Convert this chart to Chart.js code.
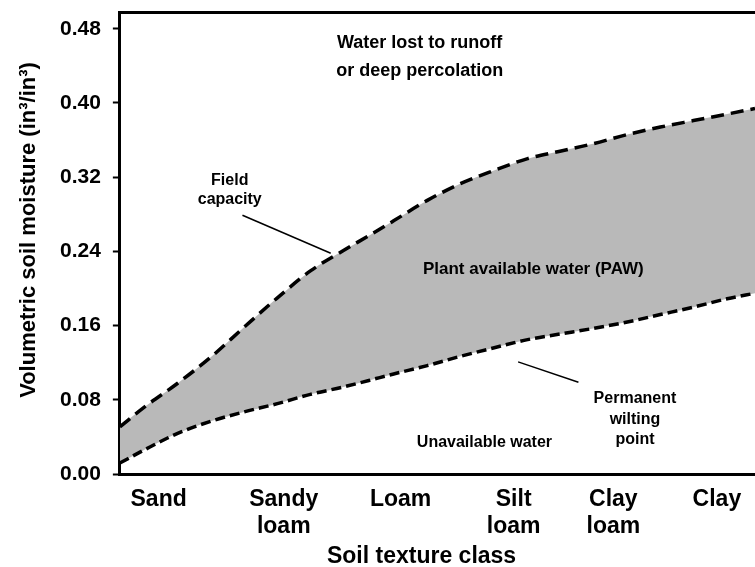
<!DOCTYPE html>
<html>
<head>
<meta charset="utf-8">
<script src="https://cdn.jsdelivr.net/npm/chart.js@4.4.1/dist/chart.umd.min.js"></script>
<style>
  body { margin: 0; background: #fff; }
  #soilChart { display: block; }
</style>
</head>
<body>
<canvas id="soilChart" width="755" height="567"></canvas>
<script>
// position along the texture axis (0 = left edge, 100 = right edge)
const xPos = [0, 3.8, 9.1, 14.3, 19.5, 24.8, 30.0, 35.2, 39.2, 43.1, 48.4, 53.6, 58.8, 64.2, 69.3, 74.5, 79.9, 85.1, 90.3, 95.6, 100];
const fieldCapacity = [0.051, 0.072, 0.098, 0.126, 0.158, 0.190, 0.219, 0.241, 0.257, 0.273, 0.295, 0.313, 0.327, 0.340, 0.348, 0.356, 0.366, 0.374, 0.381, 0.388, 0.394];
const wiltingPoint = [0.012, 0.026, 0.044, 0.057, 0.067, 0.076, 0.086, 0.094, 0.101, 0.108, 0.117, 0.127, 0.136, 0.145, 0.151, 0.157, 0.164, 0.172, 0.180, 0.189, 0.195];

const textureClasses = [["Sand"], ["Sandy", "loam"], ["Loam"], ["Silt", "loam"], ["Clay", "loam"], ["Clay"]];
const classPos = [6.1, 25.8, 44.2, 62.0, 77.7, 94.0];
const moistureTicks = [0, 0.08, 0.16, 0.24, 0.32, 0.40, 0.48];

const FONT = "'Liberation Sans', Arial, Helvetica, sans-serif";

// text labels inside the plot, placed in data units
const notes = [
  { x: 47.2, y: 0.449, lines: ["Water lost to runoff", "or deep percolation"], size: 18, lh: 28 },
  { x: 17.3, y: 0.306, lines: ["Field", "capacity"], size: 16, lh: 19 },
  { x: 65.1, y: 0.221, lines: ["Plant available water (PAW)"], size: 17, lh: 20 },
  { x: 81.1, y: 0.059, lines: ["Permanent", "wilting", "point"], size: 16, lh: 20.5 },
  { x: 57.4, y: 0.0345, lines: ["Unavailable water"], size: 16, lh: 20 },
];
const pointers = [
  [19.3, 0.279, 33.2, 0.238],
  [62.7, 0.121, 72.2, 0.099],
];

const notesPlugin = {
  id: "notes",
  afterDatasetsDraw(chart) {
    const { ctx, scales: { x, y } } = chart;
    ctx.save();
    ctx.fillStyle = "#000";
    ctx.strokeStyle = "#000";
    ctx.textAlign = "center";
    ctx.textBaseline = "middle";
    notes.forEach((n) => {
      ctx.font = `bold ${n.size}px ${FONT}`;
      const cx = x.getPixelForValue(n.x);
      const top = y.getPixelForValue(n.y) - ((n.lines.length - 1) * n.lh) / 2;
      n.lines.forEach((t, i) => ctx.fillText(t, cx, top + i * n.lh));
    });
    ctx.lineWidth = 1.5;
    pointers.forEach((p) => {
      ctx.beginPath();
      ctx.moveTo(x.getPixelForValue(p[0]), y.getPixelForValue(p[1]));
      ctx.lineTo(x.getPixelForValue(p[2]), y.getPixelForValue(p[3]));
      ctx.stroke();
    });
    // axis titles
    ctx.font = `bold 23px ${FONT}`;
    ctx.fillText("Soil texture class", x.getPixelForValue(47.5), 557);
    ctx.save();
    ctx.translate(29, 230);
    ctx.rotate(-Math.PI / 2);
    ctx.font = `bold 22px ${FONT}`;
    ctx.fillText("Volumetric soil moisture (in\u00b3/in\u00b3)", 0, 0);
    ctx.restore();
    ctx.restore();
  },
};

new Chart(document.getElementById("soilChart"), {
  type: "line",
  data: {
    datasets: [
      {
        label: "Field capacity",
        data: xPos.map((v, i) => ({ x: v, y: fieldCapacity[i] })),
        borderColor: "#000",
        borderWidth: 3.5,
        borderDash: [13, 7],
        pointRadius: 0,
        cubicInterpolationMode: "monotone",
        fill: false,
      },
      {
        label: "Permanent wilting point",
        data: xPos.map((v, i) => ({ x: v, y: wiltingPoint[i] })),
        borderColor: "#000",
        borderWidth: 3.5,
        borderDash: [10, 5],
        pointRadius: 0,
        cubicInterpolationMode: "monotone",
        backgroundColor: "#b9b9b9",
        fill: "-1",
      },
    ],
  },
  options: {
    responsive: false,
    animation: false,
    layout: { padding: { left: 48, top: 12, right: 0, bottom: 15 } },
    plugins: {
      legend: { display: false },
      tooltip: { enabled: false },
    },
    scales: {
      x: {
        type: "linear",
        min: 0,
        max: 100,
        afterBuildTicks: (scale) => {
          scale.ticks = classPos.map((v) => ({ value: v }));
        },
        ticks: {
          autoSkip: false,
          maxRotation: 0,
          padding: 12,
          color: "#000",
          font: { family: FONT, size: 23, weight: "bold", lineHeight: 1.17 },
          callback: (value, index) => textureClasses[index],
        },
        grid: { display: false, drawTicks: false },
        border: { display: true, color: "#000", width: 3 },
      },
      x2: {
        type: "linear",
        position: "top",
        min: 0,
        max: 100,
        ticks: { display: false },
        grid: { display: false, drawTicks: false },
        border: { display: true, color: "#000", width: 3 },
      },
      y: {
        min: 0,
        max: 0.498,
        afterBuildTicks: (scale) => {
          scale.ticks = moistureTicks.map((v) => ({ value: v }));
        },
        // top label sits below the frame, so no overhang room is needed
        afterFit: (scale) => {
          scale.paddingTop = 0;
          scale.paddingBottom = 0;
        },
        ticks: {
          padding: 12,
          color: "#000",
          font: { family: FONT, size: 21, weight: "bold" },
          callback: (value) => value.toFixed(2),
        },
        grid: {
          drawOnChartArea: false,
          drawTicks: true,
          tickLength: 7,
          tickWidth: 2,
          color: "#000",
        },
        border: { display: true, color: "#000", width: 3 },
      },
    },
  },
  plugins: [notesPlugin],
});
</script>
</body>
</html>
